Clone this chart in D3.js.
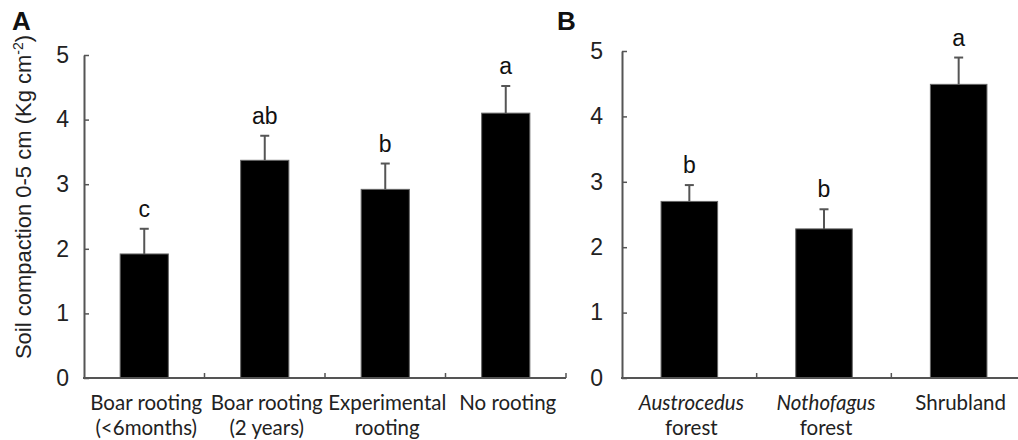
<!DOCTYPE html>
<html>
<head>
<meta charset="utf-8">
<script src="https://cdn.jsdelivr.net/npm/d3@7"></script>
<style>
  body { margin: 0; background: #fff; }
  svg text { font-family: Arial, "Liberation Sans", sans-serif; }
</style>
</head>
<body>
<script>
var width = 1018;
var height = 440;

// panel A
var catsA = [["Boar rooting", "(<6months)"], ["Boar rooting", "(2 years)"], ["Experimental", "rooting"], ["No rooting", ""]];
var meansA = [1.92, 3.37, 2.92, 4.10];
var errA = [0.39, 0.38, 0.40, 0.42];
var lettersA = ["c", "ab", "b", "a"];

// panel B
var catsB = [["Austrocedus", "forest"], ["Nothofagus", "forest"], ["Shrubland", ""]];
var italicB = [true, true, false];
var meansB = [2.70, 2.28, 4.49];
var errB = [0.25, 0.30, 0.41];
var lettersB = ["b", "b", "a"];

var yTicks = [0, 1, 2, 3, 4, 5];

var axisColor = "#555";

var svg = d3.select("body").append("svg")
    .attr("width", width)
    .attr("height", height);

function panel(opts) {
  var g = svg.append("g");

  var x = d3.scaleBand()
    .domain(d3.range(opts.means.length))
    .range([opts.x0, opts.x1])
    .paddingInner(opts.pad)
    .paddingOuter(opts.pad / 2);

  var y = d3.scaleLinear()
    .domain([0, 5])
    .range([opts.y0, opts.y1]);

  // bars
  g.selectAll("rect.bar")
    .data(opts.means)
  .enter().append("rect")
    .attr("class", "bar")
    .attr("x", function(d, i) { return x(i); })
    .attr("y", function(d) { return y(d); })
    .attr("width", x.bandwidth())
    .attr("height", function(d) { return y(0) - y(d); })
    .attr("fill", "#000")
    .attr("stroke", "#666")
    .attr("stroke-width", 1);

  // error bars (upper only)
  var cx = function(i) { return x(i) + x.bandwidth() / 2; };
  g.selectAll("line.err")
    .data(opts.means)
  .enter().append("line")
    .attr("x1", function(d, i) { return cx(i); })
    .attr("x2", function(d, i) { return cx(i); })
    .attr("y1", function(d) { return y(d); })
    .attr("y2", function(d, i) { return y(d + opts.err[i]); })
    .attr("stroke", axisColor)
    .attr("stroke-width", 2);
  g.selectAll("line.cap")
    .data(opts.means)
  .enter().append("line")
    .attr("x1", function(d, i) { return cx(i) - 4.5; })
    .attr("x2", function(d, i) { return cx(i) + 4.5; })
    .attr("y1", function(d, i) { return y(d + opts.err[i]); })
    .attr("y2", function(d, i) { return y(d + opts.err[i]); })
    .attr("stroke", axisColor)
    .attr("stroke-width", 2);

  // significance letters
  g.selectAll("text.letter")
    .data(opts.letters)
  .enter().append("text")
    .attr("x", function(d, i) { return cx(i); })
    .attr("y", function(d, i) { return y(opts.means[i] + opts.err[i]) - 12; })
    .attr("text-anchor", "middle")
    .attr("font-size", 23)
    .attr("fill", "#111")
    .text(function(d) { return d; });

  // y axis
  var yAxis = d3.axisLeft(y).tickValues(yTicks).tickFormat(d3.format("d"))
    .tickSize(-5).tickPadding(opts.tickPad).tickSizeOuter(0);
  var ya = g.append("g")
    .attr("transform", "translate(" + opts.x0 + ",0)")
    .call(yAxis);
  ya.select(".domain").attr("stroke", axisColor).attr("stroke-width", 2);
  ya.selectAll(".tick line").attr("stroke", axisColor).attr("stroke-width", 1.5);
  ya.selectAll(".tick text")
    .attr("font-size", 23)
    .attr("fill", "#222")
    .attr("font-family", "Arial, 'Liberation Sans', sans-serif");

  // x axis with ticks between categories
  g.append("line")
    .attr("x1", opts.x0 - 1).attr("x2", opts.x1)
    .attr("y1", y(0)).attr("y2", y(0))
    .attr("stroke", axisColor).attr("stroke-width", 2);
  var step = x.step();
  var bounds = d3.range(1, opts.means.length + 1);
  g.selectAll("line.xtick")
    .data(bounds)
  .enter().append("line")
    .attr("x1", function(d) { return x(d - 1) - step * opts.pad / 2 + step; })
    .attr("x2", function(d) { return x(d - 1) - step * opts.pad / 2 + step; })
    .attr("y1", y(0))
    .attr("y2", y(0) - 5)
    .attr("stroke", axisColor).attr("stroke-width", 1.5);

  // category labels
  var lab = g.selectAll("text.cat")
    .data(opts.cats)
  .enter().append("text")
    .attr("text-anchor", "middle")
    .attr("font-size", 20.5)
    .attr("fill", "#222")
    .style("font-family", "Lato, 'Open Sans', sans-serif");
  lab.append("tspan")
    .attr("x", function(d, i) { return cx(i) + 2; })
    .attr("y", y(0) + 32)
    .attr("font-style", function(d, i) { return opts.italic && opts.italic[i] ? "italic" : "normal"; })
    .text(function(d) { return d[0]; });
  lab.append("tspan")
    .attr("x", function(d, i) { return cx(i) + 2; })
    .attr("y", y(0) + 57)
    .text(function(d) { return d[1]; });

  // panel letter
  svg.append("text")
    .attr("x", opts.labelX)
    .attr("y", 30)
    .attr("font-size", 26)
    .attr("font-weight", "bold")
    .attr("fill", "#111")
    .text(opts.label);
}

panel({ x0: 84, x1: 566, y0: 378, y1: 55, pad: 0.6, tickPad: 15,
        means: meansA, err: errA, letters: lettersA, cats: catsA, label: "A", labelX: 12 });
panel({ x0: 622, x1: 1026, y0: 378, y1: 51, pad: 0.58, tickPad: 19,
        means: meansB, err: errB, letters: lettersB, cats: catsB, italic: italicB, label: "B", labelX: 557 });

// y axis title
svg.append("text")
  .attr("transform", "translate(31,197) rotate(-90)")
  .attr("text-anchor", "middle")
  .attr("font-size", 22)
  .attr("fill", "#222")
  .text("Soil compaction 0-5 cm (Kg cm")
  .append("tspan")
    .attr("dy", -8)
    .attr("font-size", 14)
    .text("-2")
  .select(function() { return this.parentNode; })
  .append("tspan")
    .attr("dy", 8)
    .text(")");
</script>
</body>
</html>
